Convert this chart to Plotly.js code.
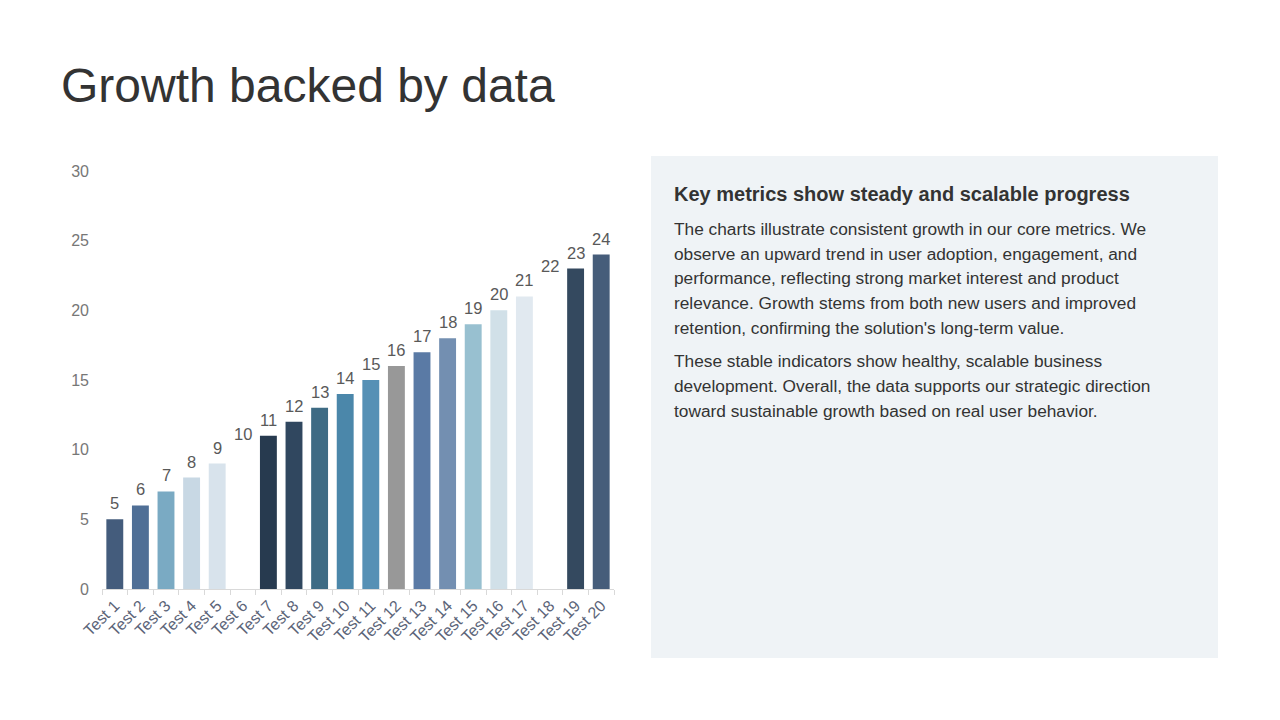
<!DOCTYPE html>
<html>
<head>
<meta charset="utf-8">
<script src="https://cdn.plot.ly/plotly-3.0.1.min.js"></script>
<style>
html,body{margin:0;padding:0;background:#fff;}
#chart{width:1280px;height:720px;}
</style>
</head>
<body>
<div id="chart"></div>
<script>
const categories = ["Test 1","Test 2","Test 3","Test 4","Test 5","Test 6","Test 7","Test 8","Test 9","Test 10",
  "Test 11","Test 12","Test 13","Test 14","Test 15","Test 16","Test 17","Test 18","Test 19","Test 20"];
const values = [5,6,7,8,9,10,11,12,13,14,15,16,17,18,19,20,21,22,23,24];
const barColors = ["#445c7c","#4f6f96","#7aaac3","#c8d8e4","#d8e3ec","#ffffff","#273a4f","#30475f","#3e6b84","#4b87aa",
  "#5690b5","#989898","#5a7aa5","#738fb1","#98c0d0","#d1e0e8","#e1e9f0","#ffffff","#34495f","#465d7a"];
const yTicks = [0,5,10,15,20,25,30];

const chartTitle = "Growth backed by data";
const panelHeading = "Key metrics show steady and scalable progress";
const paragraph1 = [
  "The charts illustrate consistent growth in our core metrics. We",
  "observe an upward trend in user adoption, engagement, and",
  "performance, reflecting strong market interest and product",
  "relevance. Growth stems from both new users and improved",
  "retention, confirming the solution's long-term value."
];
const paragraph2 = [
  "These stable indicators show healthy, scalable business",
  "development. Overall, the data supports our strategic direction",
  "toward sustainable growth based on real user behavior."
];

const W = 1280, H = 720;
const px = x => x / W;
const py = y => 1 - y / H;
const FONT = "Liberation Sans, Arial, sans-serif";

const trace = {
  type: "bar",
  x: categories,
  y: values,
  marker: {color: barColors},
  hoverinfo: "x+y"
};

const annotations = [];
// value labels above bars, positioned by the data scales
categories.forEach((c, i) => annotations.push({
  xref: "x", yref: "y", x: c, y: values[i], xanchor: "center", yanchor: "bottom",
  yshift: 5, text: String(values[i]), showarrow: false,
  font: {family: FONT, size: 16.5, color: "#595959"}
}));
annotations.push({
  xref: "paper", yref: "paper", x: px(59), y: py(85), xanchor: "left", yanchor: "middle",
  text: chartTitle, showarrow: false, font: {family: FONT, size: 48, color: "#333333"}
});
annotations.push({
  xref: "paper", yref: "paper", x: px(672), y: py(194), xanchor: "left", yanchor: "middle",
  text: "<b>" + panelHeading + "</b>", showarrow: false, font: {family: FONT, size: 20, color: "#333333"}
});
const p1y = [229, 254, 278, 303, 328];
paragraph1.forEach((t, i) => annotations.push({
  xref: "paper", yref: "paper", x: px(672), y: py(p1y[i]), xanchor: "left", yanchor: "middle",
  text: t, showarrow: false, font: {family: FONT, size: 17.3, color: "#333333"}
}));
const p2y = [361, 386, 411];
paragraph2.forEach((t, i) => annotations.push({
  xref: "paper", yref: "paper", x: px(672), y: py(p2y[i]), xanchor: "left", yanchor: "middle",
  text: t, showarrow: false, font: {family: FONT, size: 17.3, color: "#333333"}
}));

const layout = {
  width: W, height: H,
  margin: {l: 0, r: 0, t: 0, b: 0},
  paper_bgcolor: "#ffffff",
  plot_bgcolor: "rgba(0,0,0,0)",
  showlegend: false,
  bargap: 0.34,
  font: {family: FONT},
  xaxis: {
    domain: [px(102), px(614)],
    type: "category",
    tickangle: -45,
    showline: true, linecolor: "#d9d9d9", linewidth: 1,
    ticks: "outside", tickson: "boundaries", ticklen: 5, tickcolor: "#d9d9d9",
    tickfont: {family: FONT, size: 16, color: "#5b6478"},
    showgrid: false, zeroline: false,
    fixedrange: true
  },
  yaxis: {
    domain: [py(589), py(171)],
    range: [0, 30],
    tickvals: yTicks,
    showgrid: false, zeroline: false, showline: false,
    ticks: "",
    ticklabelstandoff: 12,
    tickfont: {family: FONT, size: 16, color: "#777777"},
    fixedrange: true
  },
  shapes: [{
    type: "rect", xref: "paper", yref: "paper", layer: "below",
    x0: px(651), x1: px(1218), y0: py(658), y1: py(156),
    fillcolor: "#eff3f6", line: {width: 0}
  }],
  annotations: annotations
};

Plotly.newPlot("chart", [trace], layout, {displayModeBar: false, staticPlot: true});
</script>
</body>
</html>
